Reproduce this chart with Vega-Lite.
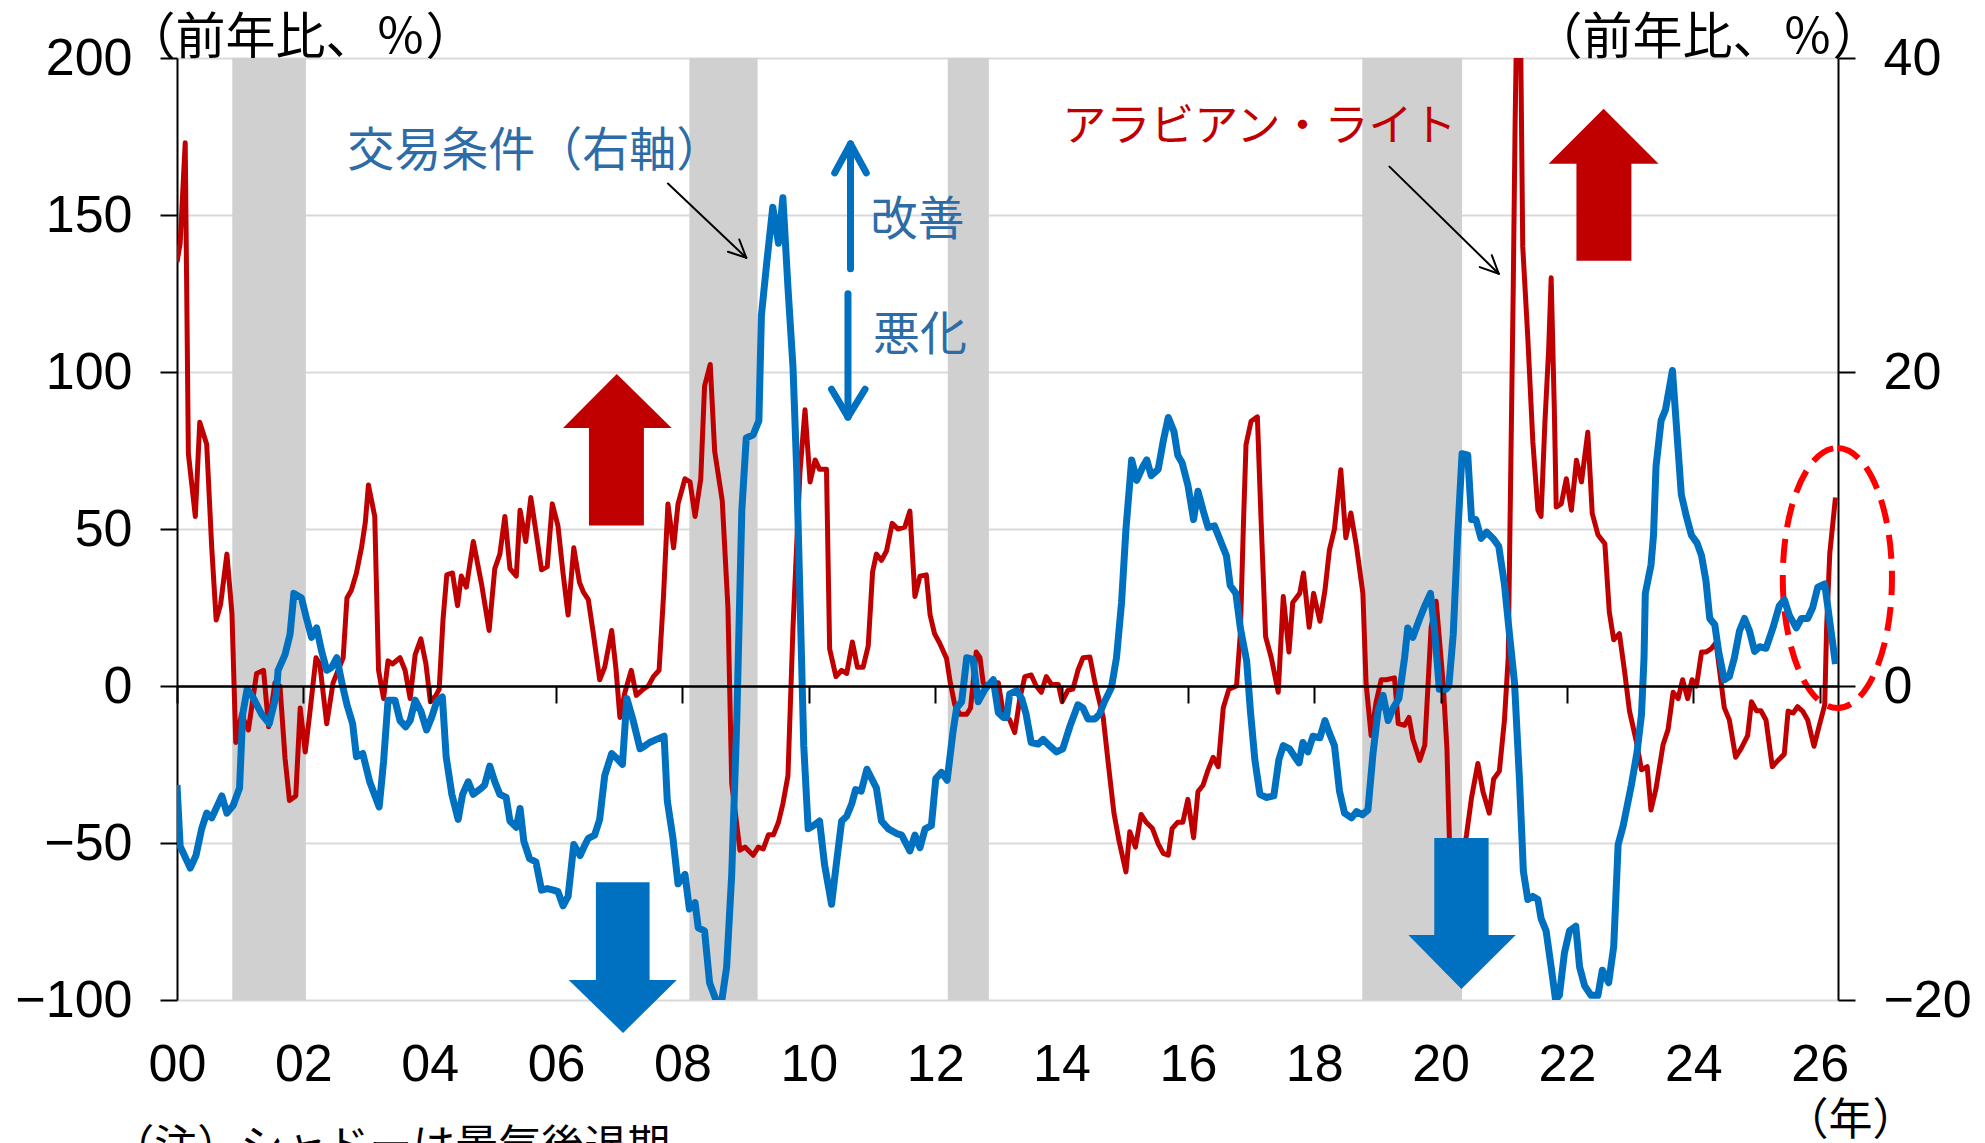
{
"$schema":"https://vega.github.io/schema/vega-lite/v6.json",
"width":1661,"height":942,
"autosize":{"type":"none"},
"padding":{"left":177,"top":58,"right":147,"bottom":143},
"config":{"view":{"stroke":null},"font":"Liberation Sans"},
"datasets":{
"bands":[{"t":2000.875,"t2":2002.04},{"t":2008.11,"t2":2009.19},{"t":2012.2,"t2":2012.85},{"t":2018.76,"t2":2020.34}],
"red":[{"t":2000.00,"v":135},{"t":2000.05,"v":141},{"t":2000.13,"v":173},{"t":2000.18,"v":74},{"t":2000.29,"v":54},{"t":2000.36,"v":84},{"t":2000.47,"v":77},{"t":2000.55,"v":44},{"t":2000.62,"v":21},{"t":2000.69,"v":26},{"t":2000.79,"v":42},{"t":2000.87,"v":23},{"t":2000.93,"v":-18},{"t":2001.02,"v":-9},{"t":2001.13,"v":-14},{"t":2001.26,"v":4},{"t":2001.37,"v":5},{"t":2001.45,"v":-13},{"t":2001.55,"v":1},{"t":2001.63,"v":0},{"t":2001.71,"v":-23},{"t":2001.78,"v":-36.5},{"t":2001.88,"v":-35},{"t":2001.95,"v":-7},{"t":2002.03,"v":-21},{"t":2002.10,"v":-9},{"t":2002.20,"v":9},{"t":2002.26,"v":7},{"t":2002.37,"v":-12},{"t":2002.47,"v":1},{"t":2002.55,"v":5},{"t":2002.63,"v":9},{"t":2002.69,"v":28},{"t":2002.76,"v":30.5},{"t":2002.84,"v":36},{"t":2002.92,"v":44},{"t":2002.98,"v":52},{"t":2003.03,"v":64},{"t":2003.08,"v":59},{"t":2003.13,"v":54},{"t":2003.19,"v":5},{"t":2003.27,"v":-4},{"t":2003.34,"v":8},{"t":2003.41,"v":7},{"t":2003.53,"v":9},{"t":2003.61,"v":5},{"t":2003.69,"v":-4},{"t":2003.77,"v":10},{"t":2003.86,"v":15},{"t":2003.94,"v":7},{"t":2004.01,"v":-5},{"t":2004.10,"v":-3},{"t":2004.15,"v":-1},{"t":2004.21,"v":21},{"t":2004.27,"v":35.4},{"t":2004.36,"v":36},{"t":2004.44,"v":25.6},{"t":2004.50,"v":35},{"t":2004.58,"v":31.5},{"t":2004.69,"v":46},{"t":2004.82,"v":32.5},{"t":2004.94,"v":17.7},{"t":2005.03,"v":37.4},{"t":2005.11,"v":42},{"t":2005.19,"v":54},{"t":2005.27,"v":37.4},{"t":2005.37,"v":35},{"t":2005.43,"v":56},{"t":2005.52,"v":46},{"t":2005.60,"v":60},{"t":2005.69,"v":48},{"t":2005.77,"v":37},{"t":2005.86,"v":38},{"t":2005.94,"v":58},{"t":2006.03,"v":51},{"t":2006.11,"v":36},{"t":2006.19,"v":22.6},{"t":2006.28,"v":44},{"t":2006.37,"v":33},{"t":2006.43,"v":30},{"t":2006.51,"v":27.5},{"t":2006.59,"v":16.7},{"t":2006.69,"v":2},{"t":2006.77,"v":6},{"t":2006.88,"v":17.7},{"t":2006.95,"v":5},{"t":2007.01,"v":-10},{"t":2007.09,"v":-2},{"t":2007.19,"v":5},{"t":2007.27,"v":-3},{"t":2007.38,"v":-1},{"t":2007.46,"v":0},{"t":2007.54,"v":3},{"t":2007.63,"v":5},{"t":2007.70,"v":28.5},{"t":2007.77,"v":58},{"t":2007.86,"v":44},{"t":2007.93,"v":58},{"t":2008.04,"v":66},{"t":2008.12,"v":65},{"t":2008.20,"v":54},{"t":2008.29,"v":66},{"t":2008.35,"v":95.5},{"t":2008.44,"v":102.4},{"t":2008.51,"v":74.8},{"t":2008.63,"v":59},{"t":2008.72,"v":25},{"t":2008.78,"v":-31},{"t":2008.91,"v":-52.3},{"t":2008.99,"v":-51.3},{"t":2009.04,"v":-52.3},{"t":2009.12,"v":-53.9},{"t":2009.20,"v":-51.3},{"t":2009.28,"v":-51.9},{"t":2009.36,"v":-47.4},{"t":2009.44,"v":-47.4},{"t":2009.52,"v":-43.4},{"t":2009.59,"v":-37.5},{"t":2009.67,"v":-28.6},{"t":2009.75,"v":18.7},{"t":2009.86,"v":68},{"t":2009.94,"v":88},{"t":2010.02,"v":65},{"t":2010.10,"v":72},{"t":2010.17,"v":69},{"t":2010.28,"v":69},{"t":2010.33,"v":11.8},{"t":2010.43,"v":3},{"t":2010.52,"v":5},{"t":2010.60,"v":4},{"t":2010.69,"v":14},{"t":2010.77,"v":6},{"t":2010.86,"v":6},{"t":2010.94,"v":12.7},{"t":2011.01,"v":36.4},{"t":2011.07,"v":42},{"t":2011.15,"v":40},{"t":2011.23,"v":43},{"t":2011.32,"v":51.8},{"t":2011.41,"v":50},{"t":2011.52,"v":50.6},{"t":2011.60,"v":55.7},{"t":2011.68,"v":28.5},{"t":2011.76,"v":35},{"t":2011.86,"v":35.4},{"t":2011.92,"v":22.6},{"t":2011.99,"v":16.7},{"t":2012.07,"v":13.7},{"t":2012.18,"v":8.8},{"t":2012.24,"v":1},{"t":2012.31,"v":-6},{"t":2012.39,"v":-9},{"t":2012.50,"v":-9},{"t":2012.56,"v":-7},{"t":2012.65,"v":10.8},{"t":2012.71,"v":9},{"t":2012.76,"v":1},{"t":2012.84,"v":0},{"t":2012.92,"v":1},{"t":2013.00,"v":1},{"t":2013.08,"v":-8.9},{"t":2013.18,"v":-10.8},{"t":2013.26,"v":-14.8},{"t":2013.34,"v":-4},{"t":2013.42,"v":3},{"t":2013.52,"v":3.5},{"t":2013.60,"v":0},{"t":2013.68,"v":-2},{"t":2013.76,"v":3},{"t":2013.84,"v":0.5},{"t":2013.95,"v":0.5},{"t":2014.01,"v":-5},{"t":2014.10,"v":-1.4},{"t":2014.18,"v":-1},{"t":2014.26,"v":5},{"t":2014.34,"v":9},{"t":2014.45,"v":9.2},{"t":2014.53,"v":1},{"t":2014.66,"v":-10},{"t":2014.74,"v":-24.7},{"t":2014.83,"v":-40.5},{"t":2014.91,"v":-49.3},{"t":2015.02,"v":-59.2},{"t":2015.08,"v":-46.4},{"t":2015.17,"v":-51.3},{"t":2015.26,"v":-40.9},{"t":2015.34,"v":-43.4},{"t":2015.44,"v":-45.4},{"t":2015.53,"v":-50.3},{"t":2015.61,"v":-53.3},{"t":2015.69,"v":-53.9},{"t":2015.75,"v":-45.4},{"t":2015.84,"v":-43.4},{"t":2015.92,"v":-43.4},{"t":2016.00,"v":-36.1},{"t":2016.09,"v":-48.3},{"t":2016.16,"v":-33.6},{"t":2016.24,"v":-31.6},{"t":2016.32,"v":-26.7},{"t":2016.40,"v":-22.7},{"t":2016.48,"v":-25.7},{"t":2016.56,"v":-6.9},{"t":2016.65,"v":-1},{"t":2016.77,"v":0},{"t":2016.83,"v":16.7},{"t":2016.88,"v":52},{"t":2016.92,"v":76.8},{"t":2017.00,"v":84.3},{"t":2017.10,"v":85.7},{"t":2017.16,"v":52},{"t":2017.23,"v":15.7},{"t":2017.32,"v":9},{"t":2017.43,"v":-2},{"t":2017.51,"v":28.5},{"t":2017.60,"v":10.8},{"t":2017.66,"v":26.6},{"t":2017.77,"v":29.5},{"t":2017.83,"v":36},{"t":2017.92,"v":18.7},{"t":2017.99,"v":29.5},{"t":2018.09,"v":20.6},{"t":2018.17,"v":30.5},{"t":2018.24,"v":43.3},{"t":2018.32,"v":50},{"t":2018.42,"v":68.9},{"t":2018.50,"v":47.2},{"t":2018.58,"v":55.1},{"t":2018.67,"v":44.3},{"t":2018.77,"v":29.5},{"t":2018.82,"v":1},{"t":2018.90,"v":-15.8},{"t":2018.98,"v":-5},{"t":2019.06,"v":2},{"t":2019.14,"v":2},{"t":2019.27,"v":2.6},{"t":2019.33,"v":-12},{"t":2019.43,"v":-12.5},{"t":2019.50,"v":-10},{"t":2019.56,"v":-16.8},{"t":2019.67,"v":-23.7},{"t":2019.75,"v":-18.8},{"t":2019.85,"v":18.7},{"t":2019.93,"v":27},{"t":2020.04,"v":1},{"t":2020.10,"v":-19.8},{"t":2020.14,"v":-49.3},{"t":2020.22,"v":-64},{"t":2020.32,"v":-58},{"t":2020.41,"v":-47.4},{"t":2020.49,"v":-35.5},{"t":2020.59,"v":-24.7},{"t":2020.67,"v":-33.6},{"t":2020.77,"v":-40.5},{"t":2020.84,"v":-29.6},{"t":2020.93,"v":-27.1},{"t":2021.01,"v":-11},{"t":2021.07,"v":9},{"t":2021.11,"v":68},{"t":2021.15,"v":127},{"t":2021.18,"v":180},{"t":2021.24,"v":260},{"t":2021.30,"v":140},{"t":2021.38,"v":111},{"t":2021.46,"v":77.8},{"t":2021.54,"v":56},{"t":2021.59,"v":54},{"t":2021.65,"v":83.5},{"t":2021.71,"v":107},{"t":2021.75,"v":130},{"t":2021.80,"v":88},{"t":2021.83,"v":57},{"t":2021.91,"v":58},{"t":2021.99,"v":66},{"t":2022.07,"v":56},{"t":2022.15,"v":71.9},{"t":2022.23,"v":65},{"t":2022.33,"v":80.8},{"t":2022.40,"v":55},{"t":2022.49,"v":48.2},{"t":2022.60,"v":45.3},{"t":2022.67,"v":23.6},{"t":2022.74,"v":14.7},{"t":2022.83,"v":16.7},{"t":2022.91,"v":5},{"t":2022.99,"v":-8},{"t":2023.10,"v":-17.8},{"t":2023.18,"v":-26.7},{"t":2023.27,"v":-25.7},{"t":2023.33,"v":-39.5},{"t":2023.41,"v":-32.6},{"t":2023.52,"v":-18.8},{"t":2023.60,"v":-13.9},{"t":2023.68,"v":-2},{"t":2023.76,"v":-4},{"t":2023.83,"v":2},{"t":2023.91,"v":-4},{"t":2023.98,"v":2},{"t":2024.05,"v":0},{"t":2024.13,"v":10.8},{"t":2024.20,"v":10.8},{"t":2024.28,"v":11.8},{"t":2024.36,"v":13.8},{"t":2024.49,"v":-6.9},{"t":2024.57,"v":-10.8},{"t":2024.67,"v":-22.7},{"t":2024.76,"v":-19.8},{"t":2024.86,"v":-15.8},{"t":2024.92,"v":-5},{"t":2025.00,"v":-7.9},{"t":2025.07,"v":-7.9},{"t":2025.15,"v":-10.8},{"t":2025.25,"v":-25.7},{"t":2025.34,"v":-23.7},{"t":2025.44,"v":-21.7},{"t":2025.50,"v":-8},{"t":2025.58,"v":-8.6},{"t":2025.65,"v":-6.6},{"t":2025.73,"v":-8},{"t":2025.81,"v":-10.8},{"t":2025.91,"v":-19.2},{"t":2025.99,"v":-12.9},{"t":2026.08,"v":-6},{"t":2026.11,"v":18.7},{"t":2026.16,"v":42.3},{"t":2026.25,"v":60}],
"blue":[{"t":2000.00,"v":-6.3},{"t":2000.05,"v":-10.2},{"t":2000.21,"v":-11.6},{"t":2000.30,"v":-10.8},{"t":2000.39,"v":-9.1},{"t":2000.47,"v":-8.1},{"t":2000.55,"v":-8.4},{"t":2000.71,"v":-7.0},{"t":2000.79,"v":-8.1},{"t":2000.89,"v":-7.6},{"t":2000.99,"v":-6.5},{"t":2001.04,"v":-1.8},{"t":2001.11,"v":-0.2},{"t":2001.20,"v":-0.7},{"t":2001.34,"v":-1.8},{"t":2001.46,"v":-2.4},{"t":2001.57,"v":-0.6},{"t":2001.60,"v":1.0},{"t":2001.71,"v":2.0},{"t":2001.79,"v":3.3},{"t":2001.85,"v":5.9},{"t":2001.97,"v":5.6},{"t":2002.05,"v":4.3},{"t":2002.13,"v":3.1},{"t":2002.21,"v":3.7},{"t":2002.29,"v":2.2},{"t":2002.37,"v":1.0},{"t":2002.45,"v":1.2},{"t":2002.53,"v":1.8},{"t":2002.61,"v":0.2},{"t":2002.69,"v":-1.2},{"t":2002.78,"v":-2.4},{"t":2002.84,"v":-4.5},{"t":2002.94,"v":-4.3},{"t":2003.05,"v":-6.1},{"t":2003.20,"v":-7.7},{"t":2003.27,"v":-4.8},{"t":2003.34,"v":-0.9},{"t":2003.45,"v":-0.9},{"t":2003.53,"v":-2.2},{"t":2003.62,"v":-2.6},{"t":2003.69,"v":-2.2},{"t":2003.77,"v":-0.9},{"t":2003.86,"v":-1.6},{"t":2003.95,"v":-2.8},{"t":2004.03,"v":-2.0},{"t":2004.11,"v":-1.0},{"t":2004.20,"v":-0.7},{"t":2004.26,"v":-4.5},{"t":2004.35,"v":-6.9},{"t":2004.45,"v":-8.5},{"t":2004.52,"v":-6.9},{"t":2004.61,"v":-6.1},{"t":2004.69,"v":-6.9},{"t":2004.82,"v":-6.5},{"t":2004.87,"v":-6.3},{"t":2004.95,"v":-5.1},{"t":2005.03,"v":-6.1},{"t":2005.11,"v":-6.9},{"t":2005.21,"v":-7.1},{"t":2005.27,"v":-8.6},{"t":2005.37,"v":-9.0},{"t":2005.43,"v":-7.8},{"t":2005.49,"v":-9.9},{"t":2005.58,"v":-11.0},{"t":2005.68,"v":-11.2},{"t":2005.77,"v":-13.0},{"t":2005.86,"v":-12.9},{"t":2005.96,"v":-13.0},{"t":2006.03,"v":-13.1},{"t":2006.11,"v":-14.0},{"t":2006.19,"v":-13.4},{"t":2006.28,"v":-10.1},{"t":2006.38,"v":-10.8},{"t":2006.46,"v":-10.1},{"t":2006.51,"v":-9.7},{"t":2006.61,"v":-9.5},{"t":2006.69,"v":-8.5},{"t":2006.77,"v":-5.7},{"t":2006.88,"v":-4.3},{"t":2006.96,"v":-4.6},{"t":2007.05,"v":-5.0},{"t":2007.12,"v":-0.8},{"t":2007.22,"v":-2.2},{"t":2007.33,"v":-4.0},{"t":2007.41,"v":-3.8},{"t":2007.48,"v":-3.6},{"t":2007.59,"v":-3.4},{"t":2007.71,"v":-3.2},{"t":2007.76,"v":-7.3},{"t":2007.85,"v":-9.7},{"t":2007.93,"v":-12.6},{"t":2008.04,"v":-12.0},{"t":2008.11,"v":-14.2},{"t":2008.20,"v":-13.8},{"t":2008.25,"v":-15.4},{"t":2008.35,"v":-15.6},{"t":2008.43,"v":-18.9},{"t":2008.54,"v":-20.1},{"t":2008.62,"v":-20.1},{"t":2008.70,"v":-17.9},{"t":2008.78,"v":-12.0},{"t":2008.86,"v":-2.2},{"t":2008.94,"v":11.2},{"t":2009.01,"v":15.8},{"t":2009.12,"v":16.0},{"t":2009.21,"v":16.9},{"t":2009.25,"v":23.6},{"t":2009.33,"v":26.8},{"t":2009.43,"v":30.5},{"t":2009.52,"v":28.2},{"t":2009.59,"v":31.1},{"t":2009.67,"v":25.4},{"t":2009.75,"v":20.3},{"t":2009.81,"v":13.6},{"t":2009.86,"v":5.7},{"t":2009.92,"v":-3.8},{"t":2009.99,"v":-9.1},{"t":2010.07,"v":-8.9},{"t":2010.17,"v":-8.6},{"t":2010.25,"v":-11.4},{"t":2010.36,"v":-13.9},{"t":2010.44,"v":-11.2},{"t":2010.52,"v":-8.6},{"t":2010.60,"v":-8.3},{"t":2010.68,"v":-7.5},{"t":2010.74,"v":-6.6},{"t":2010.83,"v":-6.7},{"t":2010.92,"v":-5.3},{"t":2011.02,"v":-6.1},{"t":2011.07,"v":-6.5},{"t":2011.15,"v":-8.6},{"t":2011.26,"v":-9.1},{"t":2011.39,"v":-9.4},{"t":2011.47,"v":-9.5},{"t":2011.60,"v":-10.5},{"t":2011.68,"v":-9.5},{"t":2011.76,"v":-10.3},{"t":2011.84,"v":-9.1},{"t":2011.94,"v":-8.9},{"t":2012.01,"v":-5.9},{"t":2012.10,"v":-5.5},{"t":2012.19,"v":-6.0},{"t":2012.28,"v":-3.0},{"t":2012.34,"v":-1.4},{"t":2012.42,"v":-1.0},{"t":2012.50,"v":1.8},{"t":2012.60,"v":1.7},{"t":2012.68,"v":-1.0},{"t":2012.79,"v":-0.2},{"t":2012.92,"v":0.4},{"t":2013.00,"v":-1.7},{"t":2013.08,"v":-2.0},{"t":2013.13,"v":-2.0},{"t":2013.18,"v":-0.5},{"t":2013.29,"v":-0.3},{"t":2013.37,"v":-0.8},{"t":2013.44,"v":-1.8},{"t":2013.52,"v":-3.6},{"t":2013.63,"v":-3.7},{"t":2013.71,"v":-3.4},{"t":2013.81,"v":-3.8},{"t":2013.92,"v":-4.2},{"t":2014.02,"v":-4.0},{"t":2014.13,"v":-2.6},{"t":2014.26,"v":-1.2},{"t":2014.34,"v":-1.4},{"t":2014.42,"v":-2.1},{"t":2014.53,"v":-2.1},{"t":2014.60,"v":-1.8},{"t":2014.68,"v":-1.0},{"t":2014.79,"v":-0.1},{"t":2014.87,"v":1.8},{"t":2014.95,"v":5.3},{"t":2015.02,"v":10.0},{"t":2015.11,"v":14.4},{"t":2015.19,"v":13.1},{"t":2015.29,"v":14.0},{"t":2015.35,"v":14.4},{"t":2015.42,"v":13.4},{"t":2015.53,"v":13.8},{"t":2015.61,"v":15.6},{"t":2015.69,"v":17.1},{"t":2015.78,"v":16.2},{"t":2015.84,"v":14.7},{"t":2015.91,"v":14.2},{"t":2016.00,"v":12.8},{"t":2016.09,"v":10.6},{"t":2016.16,"v":12.4},{"t":2016.24,"v":11.2},{"t":2016.32,"v":10.1},{"t":2016.42,"v":10.2},{"t":2016.50,"v":9.4},{"t":2016.61,"v":8.3},{"t":2016.67,"v":6.4},{"t":2016.76,"v":5.9},{"t":2016.83,"v":3.7},{"t":2016.93,"v":1.6},{"t":2016.99,"v":-1.6},{"t":2017.06,"v":-4.7},{"t":2017.14,"v":-6.9},{"t":2017.24,"v":-7.1},{"t":2017.36,"v":-7.0},{"t":2017.44,"v":-4.7},{"t":2017.51,"v":-3.8},{"t":2017.61,"v":-4.0},{"t":2017.69,"v":-4.5},{"t":2017.76,"v":-4.9},{"t":2017.82,"v":-3.6},{"t":2017.90,"v":-4.2},{"t":2017.98,"v":-3.2},{"t":2018.09,"v":-3.3},{"t":2018.17,"v":-2.2},{"t":2018.24,"v":-3.0},{"t":2018.32,"v":-3.8},{"t":2018.40,"v":-6.7},{"t":2018.48,"v":-8.1},{"t":2018.59,"v":-8.4},{"t":2018.67,"v":-8.0},{"t":2018.76,"v":-8.2},{"t":2018.85,"v":-7.9},{"t":2018.93,"v":-4.3},{"t":2019.01,"v":-1.6},{"t":2019.09,"v":-0.6},{"t":2019.17,"v":-2.2},{"t":2019.25,"v":-1.4},{"t":2019.34,"v":-0.8},{"t":2019.43,"v":1.8},{"t":2019.48,"v":3.7},{"t":2019.56,"v":3.1},{"t":2019.67,"v":4.3},{"t":2019.75,"v":5.1},{"t":2019.84,"v":5.9},{"t":2019.91,"v":3.3},{"t":2019.98,"v":-0.2},{"t":2020.09,"v":-0.2},{"t":2020.13,"v":0.0},{"t":2020.20,"v":3.3},{"t":2020.27,"v":9.6},{"t":2020.34,"v":14.8},{"t":2020.43,"v":14.7},{"t":2020.49,"v":10.6},{"t":2020.56,"v":10.6},{"t":2020.64,"v":9.4},{"t":2020.73,"v":9.8},{"t":2020.83,"v":9.4},{"t":2020.92,"v":8.9},{"t":2021.01,"v":6.5},{"t":2021.09,"v":3.3},{"t":2021.17,"v":0.2},{"t":2021.25,"v":-6.1},{"t":2021.31,"v":-11.8},{"t":2021.38,"v":-13.6},{"t":2021.46,"v":-13.4},{"t":2021.54,"v":-13.6},{"t":2021.59,"v":-14.8},{"t":2021.67,"v":-15.6},{"t":2021.75,"v":-17.9},{"t":2021.82,"v":-20.0},{"t":2021.88,"v":-19.7},{"t":2021.96,"v":-17.0},{"t":2022.04,"v":-15.6},{"t":2022.14,"v":-15.3},{"t":2022.20,"v":-17.9},{"t":2022.28,"v":-19.1},{"t":2022.38,"v":-19.7},{"t":2022.49,"v":-19.7},{"t":2022.56,"v":-18.1},{"t":2022.66,"v":-18.9},{"t":2022.74,"v":-16.6},{"t":2022.81,"v":-10.1},{"t":2022.89,"v":-8.9},{"t":2023.02,"v":-6.3},{"t":2023.11,"v":-4.2},{"t":2023.18,"v":-1.8},{"t":2023.22,"v":1.8},{"t":2023.24,"v":5.9},{"t":2023.33,"v":7.7},{"t":2023.37,"v":9.6},{"t":2023.41,"v":14.0},{"t":2023.49,"v":16.9},{"t":2023.56,"v":17.6},{"t":2023.67,"v":20.1},{"t":2023.73,"v":16.7},{"t":2023.81,"v":12.2},{"t":2023.89,"v":10.8},{"t":2023.97,"v":9.6},{"t":2024.06,"v":9.1},{"t":2024.13,"v":8.3},{"t":2024.20,"v":6.7},{"t":2024.26,"v":4.3},{"t":2024.34,"v":3.9},{"t":2024.40,"v":2.2},{"t":2024.49,"v":0.4},{"t":2024.57,"v":0.6},{"t":2024.65,"v":1.8},{"t":2024.73,"v":3.5},{"t":2024.81,"v":4.3},{"t":2024.89,"v":3.5},{"t":2024.97,"v":2.2},{"t":2025.05,"v":2.5},{"t":2025.15,"v":2.4},{"t":2025.26,"v":3.7},{"t":2025.36,"v":5.1},{"t":2025.44,"v":5.5},{"t":2025.52,"v":4.5},{"t":2025.63,"v":3.7},{"t":2025.71,"v":4.3},{"t":2025.81,"v":4.3},{"t":2025.89,"v":5.0},{"t":2025.97,"v":6.3},{"t":2026.08,"v":6.5},{"t":2026.16,"v":4.1},{"t":2026.25,"v":1.4}],
"shafts":[{"g":"oil","t":2006.52,"t2":2007.39,"v":51.1,"v2":82.6},{"g":"oil","t":2022.15,"t2":2023.02,"v":135.4,"v2":166.7},{"g":"tot","t":2006.63,"t2":2007.48,"v":-62.5,"v2":-93.9},{"g":"tot","t":2019.90,"t2":2020.76,"v":-48.4,"v2":-79.6}],
"heads":[{"id":"r1","g":"oil","t":2006.11,"v":82.2,"b":82.2},{"id":"r1","g":"oil","t":2006.96,"v":99.4,"b":82.2},{"id":"r1","g":"oil","t":2007.83,"v":82.2,"b":82.2},{"id":"r2","g":"oil","t":2021.71,"v":166.3,"b":166.3},{"id":"r2","g":"oil","t":2022.58,"v":183.8,"b":166.3},{"id":"r2","g":"oil","t":2023.45,"v":166.3,"b":166.3},{"id":"b1","g":"tot","t":2006.20,"v":-93.6,"b":-93.6},{"id":"b1","g":"tot","t":2007.06,"v":-110.5,"b":-93.6},{"id":"b1","g":"tot","t":2007.91,"v":-93.6,"b":-93.6},{"id":"b2","g":"tot","t":2019.49,"v":-79.3,"b":-79.3},{"id":"b2","g":"tot","t":2020.33,"v":-96.5,"b":-79.3},{"id":"b2","g":"tot","t":2021.19,"v":-79.3,"b":-79.3}],
"segs":[{"k":"blue","t":2010.66,"v":132.9,"t2":2010.66,"v2":172.6},{"k":"blue","t":2010.41,"v":163.4,"t2":2010.66,"v2":172.6},{"k":"blue","t":2010.91,"v":163.4,"t2":2010.66,"v2":172.6},{"k":"blue","t":2010.62,"v":124.9,"t2":2010.62,"v2":85.7},{"k":"blue","t":2010.36,"v":94.5,"t2":2010.62,"v2":85.7},{"k":"blue","t":2010.89,"v":94.5,"t2":2010.62,"v2":85.7},{"k":"black","t":2007.77,"v":160.0,"t2":2009.01,"v2":136.4},{"k":"black","t":2008.90,"v":142.2,"t2":2009.01,"v2":136.4},{"k":"black","t":2008.72,"v":138.3,"t2":2009.01,"v2":136.4},{"k":"black","t":2019.19,"v":165.4,"t2":2020.92,"v2":131.3},{"k":"black","t":2020.81,"v":137.2,"t2":2020.92,"v2":131.3},{"k":"black","t":2020.62,"v":133.4,"t2":2020.92,"v2":131.3}],
"labels":[{"g":"tot","label":"交易条件（右軸）","t":2005.67,"v":170.1},{"g":"tot","label":"改善","t":2011.72,"v":148.1},{"g":"tot","label":"悪化","t":2011.76,"v":111.5},{"g":"oil","label":"アラビアン・ライト","t":2017.13,"v":177.6},{"g":"note","label":"（注）シャドーは景気後退期","t":1998.96,"v":-140.4}],
"ring":[{"t":2026.28,"v":34.4}]
},
"encoding":{"x":{"field":"t","type":"quantitative","scale":{"domain":[2000,2026.29],"nice":false,"zero":false},
"axis":{"values":[2000,2002,2004,2006,2008,2010,2012,2014,2016,2018,2020,2022,2024,2026],"format":"d","labelExpr":"substring(datum.label, 2)","offset":-314,"grid":false,"domain":true,"domainColor":"#000000","domainWidth":2.5,"ticks":true,"tickSize":17,"tickWidth":2,"tickColor":"#000000","labelPadding":336,"labelFont":"Liberation Sans","labelFontSize":52,"labelColor":"#000000","labelOverlap":false,"labelFlush":false,"labelBound":false,"title":"（年）","titleFont":"Noto Sans CJK JP","titleFontSize":44,"titleFontWeight":"normal","titleColor":"#000000","titleAlign":"center","titleBaseline":"middle","titleX":1673,"titleY":435,"zindex":1}}},
"layer":[
{"data":{"name":"bands"},"mark":{"type":"rect","color":"#D0D0D0"},"encoding":{"x2":{"field":"t2"}}},
{"encoding":{"y":{"field":"v","type":"quantitative","scale":{"domain":[-100,200],"nice":false,"zero":false},
"axis":{"orient":"left","values":[-100,-50,0,50,100,150,200],"grid":true,"gridColor":"#D9D9D9","gridWidth":2,"domainColor":"#000000","domainWidth":2,"tickColor":"#000000","tickWidth":2,"tickSize":17,"labelFont":"Liberation Sans","labelFontSize":52,"labelColor":"#000000","labelPadding":28,"labelOverlap":false,"labelBound":false,"labelFlush":false,"title":"（前年比、％）","titleFont":"Noto Sans CJK JP","titleFontSize":50,"titleFontWeight":"normal","titleColor":"#000000","titleAngle":0,"titleAlign":"left","titleBaseline":"middle","titleX":-52,"titleY":-20}}},
"layer":[
{"data":{"name":"red"},"mark":{"type":"line","color":"#C00000","strokeWidth":5,"strokeJoin":"round","clip":true}},
{"data":{"name":"shafts"},"mark":{"type":"rect"},"encoding":{"x2":{"field":"t2"},"y2":{"field":"v2"},"color":{"field":"g","type":"nominal","scale":{"domain":["oil","tot"],"range":["#C00000","#0070C0"]},"legend":null}}},
{"data":{"name":"heads"},"mark":{"type":"area","orient":"vertical"},"encoding":{"y":{"field":"v","type":"quantitative","stack":null},"y2":{"field":"b"},"detail":{"field":"id"},"color":{"field":"g","type":"nominal","scale":{"domain":["oil","tot"],"range":["#C00000","#0070C0"]},"legend":null}}},
{"data":{"name":"segs"},"transform":[{"filter":"datum.k == 'blue'"}],"mark":{"type":"rule","color":"#0070C0","strokeWidth":7,"strokeCap":"round"},"encoding":{"x2":{"field":"t2"},"y2":{"field":"v2"}}},
{"data":{"name":"segs"},"transform":[{"filter":"datum.k == 'black'"}],"mark":{"type":"rule","color":"#000000","strokeWidth":2,"strokeCap":"round"},"encoding":{"x2":{"field":"t2"},"y2":{"field":"v2"}}},
{"data":{"name":"labels"},"transform":[{"filter":"datum.g == 'tot'"}],"mark":{"type":"text","font":"Noto Sans CJK JP","fontSize":47,"color":"#2E6CA8","align":"center","baseline":"middle"},"encoding":{"text":{"field":"label"}}},
{"data":{"name":"labels"},"transform":[{"filter":"datum.g == 'oil'"}],"mark":{"type":"text","font":"Noto Sans CJK JP","fontSize":44,"color":"#C00000","align":"center","baseline":"middle"},"encoding":{"text":{"field":"label"}}},
{"data":{"name":"labels"},"transform":[{"filter":"datum.g == 'note'"}],"mark":{"type":"text","font":"Noto Sans CJK JP","fontSize":43,"color":"#000000","align":"left","baseline":"top"},"encoding":{"text":{"field":"label"}}},
{"data":{"name":"ring"},"mark":{"type":"point","shape":"M0,-1C0.232,-1 0.42,-0.5523 0.42,0C0.42,0.5523 0.232,1 0,1C-0.232,1 -0.42,0.5523 -0.42,0C-0.42,-0.5523 -0.232,-1 0,-1Z","size":67600,"filled":false,"stroke":"#FF0000","strokeWidth":6,"strokeDash":[24,12],"opacity":1}}
]},
{"encoding":{"y":{"field":"v","type":"quantitative","scale":{"domain":[-20,40],"nice":false,"zero":false},
"axis":{"orient":"right","values":[-20,0,20,40],"grid":false,"domainColor":"#000000","domainWidth":2,"tickColor":"#000000","tickWidth":2,"tickSize":17,"labelFont":"Liberation Sans","labelFontSize":52,"labelColor":"#000000","labelPadding":28,"labelOverlap":false,"labelBound":false,"labelFlush":false,"title":"（前年比、％）","titleFont":"Noto Sans CJK JP","titleFontSize":50,"titleFontWeight":"normal","titleColor":"#000000","titleAngle":0,"titleAlign":"left","titleBaseline":"middle","titleX":-306,"titleY":-20}}},
"layer":[
{"data":{"name":"blue"},"mark":{"type":"line","color":"#0070C0","strokeWidth":7,"strokeJoin":"round","clip":true}}
]}
],
"resolve":{"scale":{"y":"independent"}}
}
